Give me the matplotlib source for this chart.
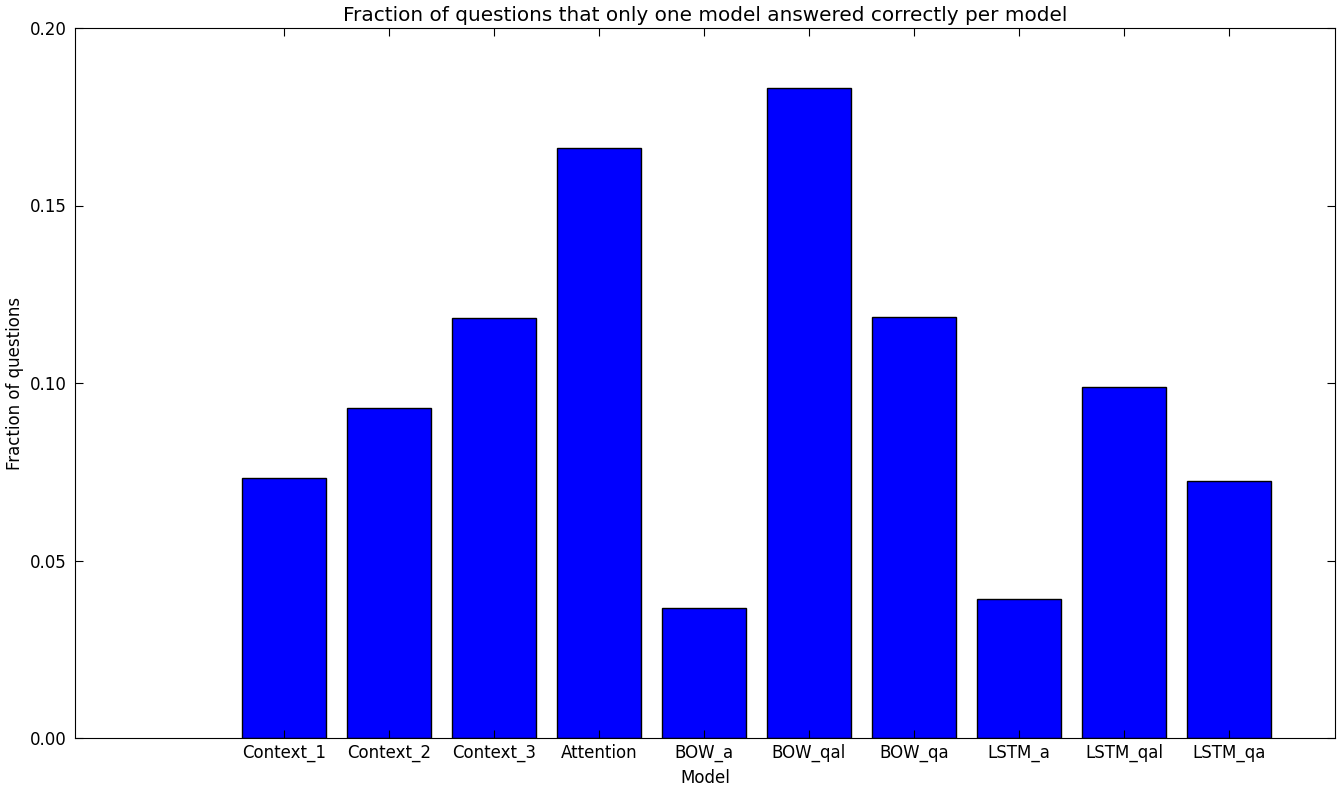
import matplotlib
matplotlib.use("Agg")
import matplotlib.pyplot as plt

# models and fraction of questions only that model got right
models = ["Context_1", "Context_2", "Context_3", "Attention", "BOW_a",
          "BOW_qal", "BOW_qa", "LSTM_a", "LSTM_qal", "LSTM_qa"]
fractions = [0.0732, 0.0930, 0.1183, 0.1662, 0.0366,
             0.1831, 0.1186, 0.0392, 0.0989, 0.0724]
positions = list(range(1, len(models) + 1))

plt.rcParams["font.family"] = ["DejaVu Sans"]
plt.rcParams["font.size"] = 12

fig = plt.figure(figsize=(13.42, 7.88), dpi=100, facecolor="white")
ax = fig.add_axes([75 / 1342, 50 / 788, 1260 / 1342, 710 / 788])

ax.bar(positions, fractions, width=0.8, color="#0000ff", edgecolor="black", linewidth=1)

ax.set_xlim(-0.99, 11.01)
ax.set_ylim(0, 0.20)
ax.set_xticks(positions)
ax.set_xticklabels(models)
ax.set_yticks([0.0, 0.05, 0.10, 0.15, 0.20])
ax.set_yticklabels(["0.00", "0.05", "0.10", "0.15", "0.20"])
ax.tick_params(direction="in", top=True, right=True, length=6, labelsize=12)
ax.tick_params(axis="x", pad=4)
ax.tick_params(axis="y", pad=6)

ax.set_title("Fraction of questions that only one model answered correctly per model", fontsize=14.4, pad=5)
ax.set_xlabel("Model", fontsize=12, labelpad=5)
ax.set_ylabel("Fraction of questions", fontsize=12)

fig.savefig("out.png", dpi=100, facecolor="white")
